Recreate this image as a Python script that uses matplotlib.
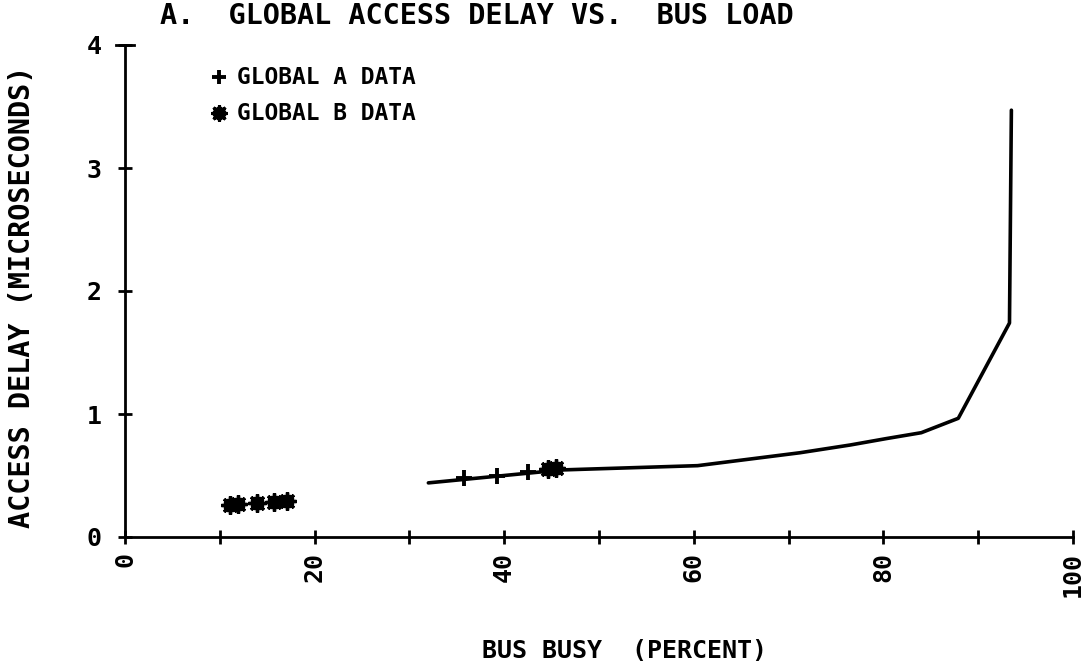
import matplotlib
matplotlib.use("Agg")
import matplotlib.pyplot as plt

# line (model curve)
line_x = [32.0, 46.0, 48.0, 60.4, 71.2, 76.5, 80.3, 84.0, 87.9, 93.3, 93.5]
line_y = [0.44, 0.545, 0.55, 0.58, 0.685, 0.748, 0.80, 0.848, 0.965, 1.74, 3.47]

# measured points
a_x = [35.8, 39.2, 42.5]
a_y = [0.477, 0.496, 0.53]
b_x = [11.05, 11.96, 13.9, 15.7, 17.1, 44.6, 45.5]
b_y = [0.26, 0.268, 0.273, 0.287, 0.295, 0.555, 0.565]

x_ticks = list(range(0, 101, 10))
x_labels = ['0', '', '20', '', '40', '', '60', '', '80', '', '100']
y_ticks = [0, 1, 2, 3, 4]

FONT = 'DejaVu Sans Mono'
W, H = 1085, 669

fig = plt.figure(figsize=(W / 100, H / 100), dpi=100)
ax = fig.add_axes([125 / W, 1 - 537 / H, (1073 - 125) / W, (537 - 45) / H])

ax.plot(line_x, line_y, color='black', lw=2.6, solid_capstyle='round', zorder=3)
ax.plot(a_x, a_y, ls='none', marker='+', ms=11, mew=2.8, color='black', zorder=4)
ax.plot(b_x, b_y, ls='none', marker='8', ms=10, color='black', zorder=4)
ax.plot(b_x, b_y, ls='none', marker=(8, 2, 0), ms=13, mew=2.4, color='black', zorder=4)

ax.set_xlim(0, 100)
ax.set_ylim(0, 4)
for s in ['top', 'right']:
    ax.spines[s].set_visible(False)
for s in ['left', 'bottom']:
    ax.spines[s].set_linewidth(2)

ax.set_xticks(x_ticks)
ax.set_xticklabels(x_labels, rotation=90, fontfamily=FONT, fontweight='bold', fontsize=18)
ax.set_yticks(y_ticks)
ax.set_yticklabels([str(v) for v in y_ticks], fontfamily=FONT, fontweight='bold', fontsize=18)
ax.tick_params(axis='both', direction='inout', length=10, width=2)
ax.tick_params(axis='y', pad=12)
ax.tick_params(axis='x', pad=6)

# top cap on y axis
ax.plot([-0.9, 0.9], [4, 4], color='black', lw=2, clip_on=False)

fig.text(160 / W, 1 - 16 / H, 'A.  GLOBAL ACCESS DELAY VS.  BUS LOAD',
         fontfamily=FONT, fontweight='bold', fontsize=20.5, va='center', ha='left')

# legend
ax.plot([9.9], [3.74], marker='+', ms=10, mew=2.8, color='black', clip_on=False)
ax.plot([9.9], [3.45], marker='8', ms=9, color='black', clip_on=False)
ax.plot([9.9], [3.45], marker=(8, 2, 0), ms=12, mew=2.2, color='black', clip_on=False)
fig.text(237 / W, 1 - 77 / H, 'GLOBAL A DATA', fontfamily=FONT, fontweight='bold',
         fontsize=16.5, va='center', ha='left')
fig.text(237 / W, 1 - 113 / H, 'GLOBAL B DATA', fontfamily=FONT, fontweight='bold',
         fontsize=16.5, va='center', ha='left')

fig.text(22 / W, 1 - 297 / H, 'ACCESS DELAY (MICROSECONDS)', rotation=90,
         fontfamily=FONT, fontweight='bold', fontsize=20.5, va='center', ha='center')
fig.text(625 / W, 1 - 651 / H, 'BUS BUSY  (PERCENT)',
         fontfamily=FONT, fontweight='bold', fontsize=18, va='center', ha='center')

fig.savefig('out.png', dpi=100, facecolor='white')
